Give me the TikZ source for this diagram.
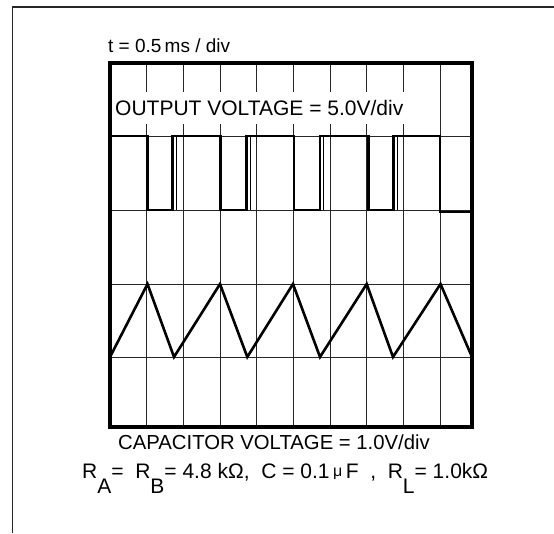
\documentclass[tikz,border=0pt]{standalone}
\usepackage{fontspec}
\setmainfont{Liberation Sans}
\newcommand{\lowsub}[1]{\raisebox{-0.72em}{#1}}
\tikzset{
  gridline/.style={line width=0.9pt, black!85},
  frameline/.style={line width=4pt, line cap=rect},
  trace/.style={line width=2.6pt, line join=miter},
  ghost/.style={line width=0.9pt},
  outer/.style={line width=1.6pt, black!85},
  lbl/.style={font=\fontsize{20}{24}\selectfont, inner sep=0pt},
}
\begin{document}
\begin{tikzpicture}[x=1pt,y=-1pt]
\useasboundingbox (0,0) rectangle (554,533);
% outer page frame (top and left only)
\coordinate (fa) at (12.5,7);
\coordinate (fb) at (554,7);
\coordinate (fc) at (12.5,533);
\draw[outer] (fb) -- (fa) -- (fc);

% grid
\foreach \x in {146.7,183.3,220,256.7,293.3,330,366.7,403.3,440}
  \draw[gridline] (\x,63) -- (\x,427);
\foreach \y in {136,210,284,357}
  \draw[gridline] (110,\y) -- (472,\y);

% output label (masks grid lines)
\node[lbl, font=\fontsize{21}{25}\selectfont, fill=white, anchor=base west, inner xsep=2pt, inner ysep=7pt,
      text height=16pt, text depth=2pt] (out) at (113,115)
      {OUTPUT VOLTAGE = 5.0V/div};

% square wave
\draw[trace] (110,136) -- (147.7,136) -- (147.7,210) -- (172.7,210) -- (172.7,136)
  -- (220.7,136) -- (220.7,210) -- (246.7,210) -- (246.7,136)
  -- (294,136) -- (294,210) -- (320,210) -- (320,136)
  -- (368.3,136) -- (368.3,210) -- (393.3,210) -- (393.3,136)
  -- (440,136) -- (440,212) -- (472,212);
\foreach \x in {176.7,250.2,323.5,397}
  \draw[ghost] (\x,136) -- (\x,210);

% triangle wave
\draw[trace] (110,357) -- (147.5,284) -- (174,357) -- (220,284) -- (247.3,357)
  -- (293,284) -- (320,357) -- (366.7,284) -- (393,357) -- (440.5,284) -- (472,357);

% screen border
\draw[frameline] (110,63) rectangle (472,427);

% texts
\node[lbl, font=\fontsize{19}{23}\selectfont, anchor=base west] (tdiv) at (108,52) {t = 0.5\,ms / div};
\node[lbl, font=\fontsize{20.3}{24}\selectfont, anchor=base west] (cap) at (118,449) {CAPACITOR VOLTAGE = 1.0V/div};
\node[lbl, font=\fontsize{21}{25}\selectfont, anchor=base west] (vals) at (82,478)
  {R\lowsub{A}= \ R\lowsub{B}= 4.8 kΩ, \ C = 0.1\,{\fontsize{16}{18}\selectfont\raisebox{0.1em}{μ}}\,F \ , \ R\lowsub{L}= 1.0kΩ};
\end{tikzpicture}
\end{document}
